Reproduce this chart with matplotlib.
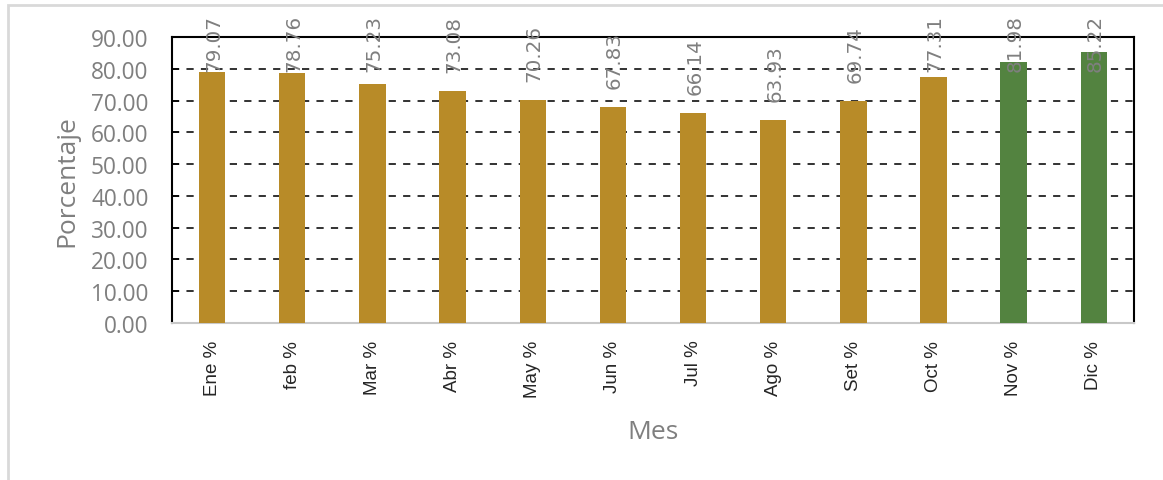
import matplotlib
matplotlib.use("Agg")
import matplotlib.pyplot as plt
from matplotlib.patches import Rectangle

# Data
meses = ["Ene %", "feb %", "Mar %", "Abr %", "May %", "Jun %",
         "Jul %", "Ago %", "Set %", "Oct %", "Nov %", "Dic %"]
valores = [79.07, 78.76, 75.23, 73.08, 70.26, 67.83,
           66.14, 63.93, 69.74, 77.31, 81.98, 85.22]
colores = ["#B88B28"] * 10 + ["#538340"] * 2

plt.rcParams["font.family"] = ["Open Sans", "DejaVu Sans"]
GRAY = "#7F7F7F"

fig = plt.figure(figsize=(11.63, 4.81), dpi=100)
ax = fig.add_axes([0.1479, 0.3264, 0.8271, 0.5946])

x = list(range(len(meses)))
ax.bar(x, valores, width=0.33, color=colores, zorder=3)

# labels sit a little above the bar, but get pushed down near the top of the chart
for xi, v in zip(x, valores):
    ax.text(xi + 0.02, min(v + 6, 79.3), f"{v:.2f}", rotation=90, ha="center",
            va="bottom", fontsize=14.3, color=GRAY, family="DejaVu Sans", zorder=4)

ax.set_xlim(-0.5, len(meses) - 0.5)
ax.set_ylim(0, 90)
ax.set_yticks(range(0, 91, 10))
ax.set_yticklabels([f"{t:.2f}" for t in range(0, 91, 10)], fontsize=16.3, color=GRAY)
ax.set_xticks(x)
ax.set_xticklabels(meses, rotation=90, fontsize=13.5, color="#262626",
                   family="Liberation Sans")
ax.tick_params(axis="x", length=0, pad=12)
ax.tick_params(axis="y", length=5, direction="in", width=1.2, colors="black",
               labelcolor=GRAY, pad=17)

ax.yaxis.grid(True, linestyle=(0, (4, 4)), color="#222222", linewidth=1.3, zorder=1)
ax.set_axisbelow(True)

for s in ["top", "right", "left"]:
    ax.spines[s].set_color("black")
    ax.spines[s].set_linewidth(1.5)
ax.spines["bottom"].set_color("#C8C8C8")
ax.spines["bottom"].set_linewidth(1.5)

ax.set_ylabel("Porcentaje", fontsize=19, color=GRAY, labelpad=8)
ax.set_xlabel("Mes", fontsize=19, color=GRAY, labelpad=16)

# outer chart border (only left and top edges fall inside the image)
fig.patches.append(Rectangle((0.0065, -0.05), 1.05, 1.0375, transform=fig.transFigure,
                             fill=False, edgecolor="#D9D9D9", linewidth=2))

fig.savefig("out.png", dpi=100)
